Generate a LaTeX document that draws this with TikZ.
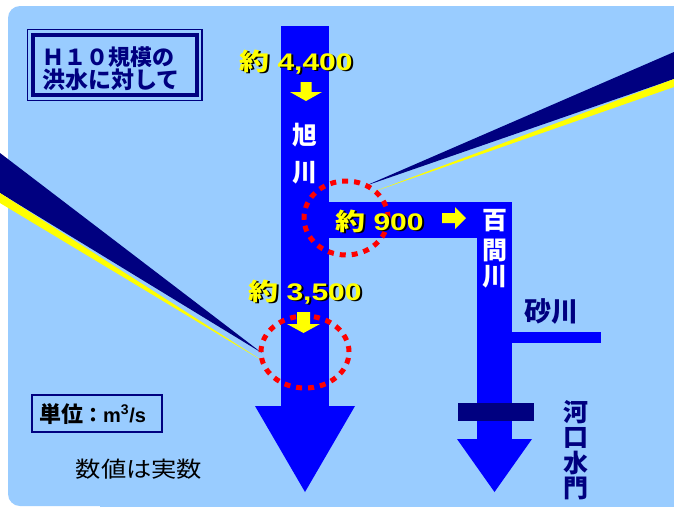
\documentclass[tikz,border=0pt]{standalone}
\usepackage{fontspec}
\usepackage{graphicx}
\setmainfont{Liberation Sans}
\newfontfamily\jp{Noto Sans CJK JP}
\definecolor{bg}{HTML}{99CCFF}
\definecolor{riv}{HTML}{0000FF}
\definecolor{nv}{HTML}{000080}
\definecolor{yl}{HTML}{FFFF00}
\newcommand{\shadowed}[1]{\makebox[0pt][l]{\hspace{2pt}\raisebox{-1.5pt}{\color{black}\scalebox{1.25}[1]{#1}}}\scalebox{1.25}[1]{#1}}
\tikzset{
  ytext/.style={inner sep=0pt, anchor=base west, text=yl, font=\bfseries\fontsize{24}{24}\selectfont},
  wtext/.style={inner sep=0pt, text=white, font=\jp\bfseries\fontsize{25}{25}\selectfont},
  ntext/.style={inner sep=0pt, text=nv, font=\jp\bfseries\fontsize{25}{25}\selectfont},
  reddots/.style={draw=red, line width=5pt, dash pattern=on 6pt off 6pt},
  yarrow/.style={fill=yl},
}
\begin{document}
\begin{tikzpicture}[x=1pt,y=-1pt]
\useasboundingbox (0,0) rectangle (674,507);
\fill[white] (0,0) rectangle (674,507);
\fill[bg, rounded corners=12pt] (8,6) rectangle (674,506);
\fill[bg] (100,440) rectangle (674,507);
\fill[bg] (650,6) rectangle (674,40);

% wedges
\fill[nv] (0,153) -- (0,193) -- (262,353) -- cycle;
\fill[yl] (0,193) -- (0,203) -- (266,363) -- cycle;
\fill[nv] (674,52) -- (674,79) -- (365,186) -- cycle;
\fill[yl] (674,79) -- (674,87) -- (370,193) -- cycle;

% rivers
\fill[riv] (281,26) rectangle (329,406);
\fill[riv] (255,406) -- (355,406) -- (305,492) -- cycle;
\fill[riv] (329,202) rectangle (477,238);
\fill[riv] (477,202) rectangle (512,439);
\fill[riv] (457,439) -- (532,439) -- (494.5,492) -- cycle;
\fill[riv] (512,332) rectangle (601,343);
\fill[nv] (458,403) rectangle (534,421);

% red dotted circles
\draw[reddots] (346,218) ellipse [x radius=42pt, y radius=37pt];
\draw[reddots] (305,352) ellipse [x radius=44pt, y radius=36pt];

% small yellow arrows
\fill[yarrow] (300.5,82) -- (311.5,82) -- (311.5,92) -- (322,92) -- (306,101) -- (290,92) -- (300.5,92) -- cycle;
\fill[yarrow] (297,312) -- (310,312) -- (310,324) -- (320,324) -- (303.5,333) -- (287,324) -- (297,324) -- cycle;
\fill[yarrow] (442,213) -- (455,213) -- (455,207) -- (466,218) -- (455,229) -- (455,223) -- (442,223) -- cycle;

% yellow numbers with shadow
\node[ytext] (t1) at (239,70) {\shadowed{{\jp 約} 4,400}};
\node[ytext] (t2) at (335,230) {\shadowed{{\jp 約} 900}};
\node[ytext] (t3) at (248,300) {\shadowed{{\jp 約} 3,500}};

% river names
\node[wtext] (a1) at (305,135) {旭};
\node[wtext] (a2) at (305,173) {川};
\node[wtext] (h1) at (494.5,221) {百};
\node[wtext] (h2) at (494.5,250) {間};
\node[wtext] (h3) at (494.5,277) {川};
\node[ntext, font=\jp\bfseries\fontsize{27}{27}\selectfont] (sn) at (551,311) {砂川};
\node[ntext] (k1) at (576,412) {河};
\node[ntext] (k2) at (576,437.5) {口};
\node[ntext] (k3) at (576,463) {水};
\node[ntext] (k4) at (576,488.5) {門};

% title box
\draw[nv, line width=1.3pt] (27.5,29.5) rectangle (202,100.5);
\draw[nv, line width=4pt] (33,35) rectangle (197,95);
\node[inner sep=0pt, anchor=base west, text=nv, font=\jp\bfseries\fontsize{22}{22}\selectfont] (ti1) at (42,65) {Ｈ１０規模の};
\node[inner sep=0pt, anchor=base west, text=nv, font=\jp\bfseries\fontsize{23}{23}\selectfont] (ti2) at (42,88) {洪水に対して};

% unit box
\draw[nv, line width=1.8pt] (32,395) rectangle (162,432);
\node[inner sep=0pt, anchor=base west, text=black, font=\bfseries\fontsize{20}{20}\selectfont] (un) at (39,422) {{\jp\fontsize{22}{22}\selectfont 単位}{\jp ：}m\textsuperscript{3}/s};
\node[inner sep=0pt, text=black, font=\jp\fontsize{22}{22}\selectfont] (nt) at (139,469) {\scalebox{1.15}[1]{数値は実数}};
\end{tikzpicture}
\end{document}
